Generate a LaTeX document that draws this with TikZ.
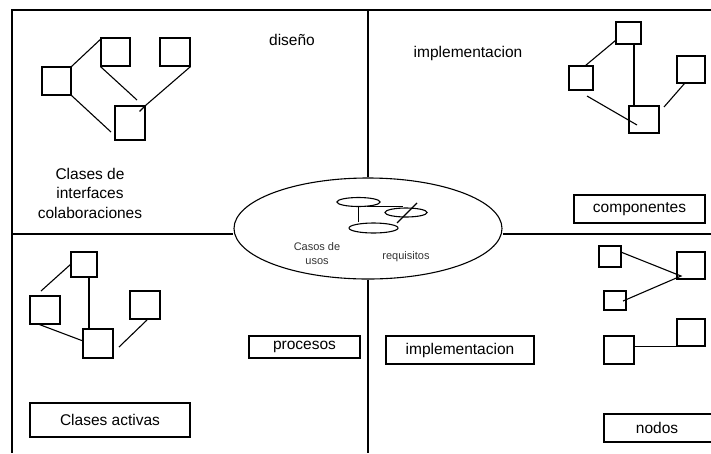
\documentclass[tikz,border=0pt]{standalone}
\usepackage{fontspec}
\setmainfont{Liberation Sans}
\usetikzlibrary{shapes.geometric,calc}
\begin{document}
\begin{tikzpicture}[x=1pt,y=-1pt,line width=1.1pt,
  box/.style={draw,rectangle,inner sep=0pt},
  tag/.style={draw,rectangle,inner sep=0pt,font=\fontsize{15.5}{18}\selectfont},
  lbl/.style={inner sep=0pt,font=\fontsize{15.5}{19.5}\selectfont,align=center},
  uc/.style={draw,ellipse,inner sep=0pt},
  small/.style={inner sep=0pt,font=\fontsize{11}{14}\selectfont,text=black!80,align=center}]
\useasboundingbox (0,0) rectangle (711,453);

% central use-case ellipse
\node[uc,minimum width=268,minimum height=101] (core) at (368,228.5) {};
\node[uc,minimum width=43,minimum height=9] (u1) at (358.5,202) {};
\node[uc,minimum width=42,minimum height=9] (u2) at (406,212.5) {};
\node[uc,minimum width=49,minimum height=10] (u3) at (373.5,228) {};
\draw (u1.south) -- (u1.south |- u3.north);
\draw (u1.-28) -- ++(36,0);
\coordinate (s1) at (417,203);
\coordinate (s2) at (397,223);
\draw (s1) -- (s2);
\node[small] (cu) at (317,254) {Casos de\\usos};
\node[small] (rq) at (406,257) {requisitos};

% frame and quadrant dividers
\coordinate (tl) at (12,10);
\coordinate (tr) at (711,10);
\coordinate (bl) at (12,453);
\draw (tr) -- (tl) -- (bl);
\draw (368,10) -- (core.north);
\draw (core.south) -- (368,453);
\draw (12,234) -- (core.west |- 12,234);
\draw (core.east |- 711,234) -- (711,234);

% design view
\node[lbl] (dis) at (292,40) {diseño};
\node[box,minimum width=29,minimum height=28] (A) at (56.5,81) {};
\node[box,minimum width=29,minimum height=28] (B) at (115.5,52) {};
\node[box,minimum width=30,minimum height=28] (C) at (175,52) {};
\node[box,minimum width=30,minimum height=34] (D) at (130,123) {};
\coordinate (a1) at (111,132);
\coordinate (b1) at (137,100);
\draw (A.north east) -- (B.140);
\draw (A.south east) -- (a1);
\draw (B.south west) -- (b1);
\draw (C.south east) -- (D.north east) -- ++(-6,6);
\node[lbl] (cint) at (90,193) {Clases de\\interfaces\\colaboraciones};

% implementation view
\node[lbl] (imp) at (468,53) {implementacion};
\node[box,minimum width=25,minimum height=22] (E) at (628.5,33) {};
\node[box,minimum width=24,minimum height=24] (F) at (581,78) {};
\node[box,minimum width=28,minimum height=27] (G) at (691,69.5) {};
\node[box,minimum width=30,minimum height=27] (H) at (644,119.5) {};
\coordinate (e1) at ($(E.south)+(5.5,0)$);
\draw (e1) -- (e1 |- H.north);
\draw (E.210) -- (F.70);
\coordinate (f1) at (587,96);
\coordinate (h1) at (637,125);
\draw (f1) -- (h1);
\coordinate (h2) at (664,107);
\draw (G.245) -- (h2);
\node[tag,minimum width=131,minimum height=28] (comp) at (639.5,209) {componentes};

% process view
\node[box,minimum width=26,minimum height=25] (I) at (84,264.5) {};
\node[box,minimum width=30,minimum height=28] (J) at (45,310) {};
\node[box,minimum width=30,minimum height=28] (K) at (145,305) {};
\node[box,minimum width=30,minimum height=29] (L) at (98,343.5) {};
\coordinate (i1) at ($(I.south)+(5,0)$);
\draw (i1) -- (i1 |- L.north);
\coordinate (j1) at (41,291);
\draw (I.west) -- (j1);
\draw ($(J.south west)+(10,0)$) -- (L.170);
\coordinate (k1) at (147,320);
\coordinate (l1) at (119,347);
\draw (k1) -- (l1);
\node[tag,minimum width=111,minimum height=22] (proc) at (304.5,347) {procesos};
\node[tag,minimum width=160,minimum height=34] (act) at (110,420) {Clases activas};

% deployment view
\node[tag,minimum width=148,minimum height=28] (impl) at (460,350) {implementacion};
\node[box,minimum width=22,minimum height=21] (M) at (610,256.5) {};
\node[box,minimum width=28,minimum height=27] (N) at (691,265.5) {};
\node[box,minimum width=22,minimum height=19] (O) at (615,300.5) {};
\node[box,minimum width=30,minimum height=28] (P) at (619,350) {};
\node[box,minimum width=28,minimum height=27] (Q) at (691,332.5) {};
\coordinate (n1) at (681,276);
\coordinate (o1) at (623,301);
\draw (M.20) -- (n1) -- (o1);
\draw (P.east |- Q.south) -- (Q.south west);
\node[tag,minimum width=110,minimum height=28] (nod) at (659,428) {};
\node[lbl] (nodt) at (657,428) {nodos};
\end{tikzpicture}
\end{document}
